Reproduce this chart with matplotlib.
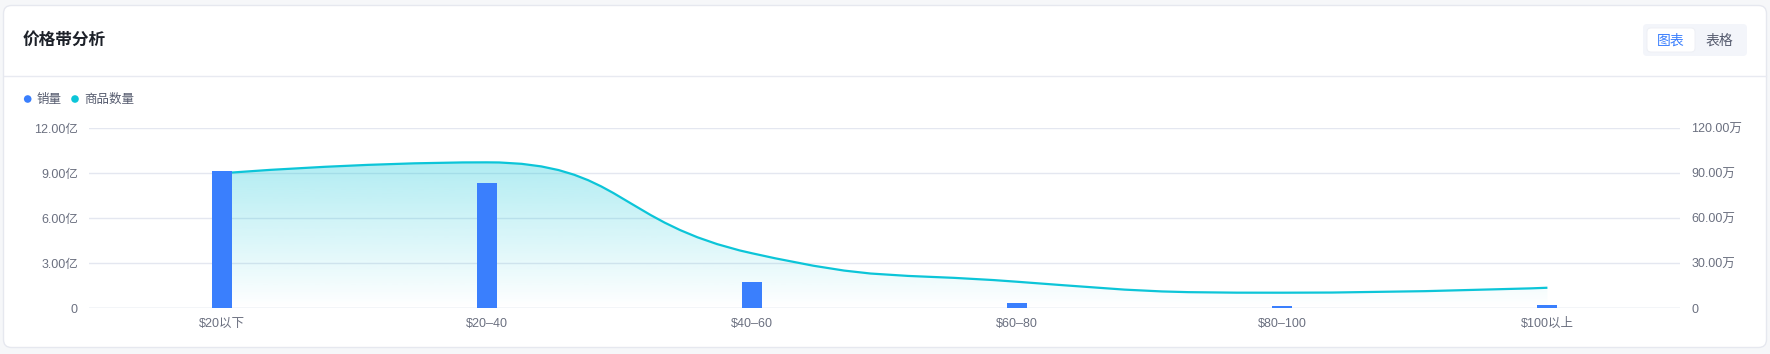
import numpy as np
import matplotlib
matplotlib.use("Agg")
import matplotlib.pyplot as plt
from matplotlib.patches import FancyBboxPatch, PathPatch, Circle
from matplotlib.path import Path
from matplotlib.colors import to_rgba

plt.rcParams['font.family'] = ['Noto Sans CJK SC', 'DejaVu Sans']
TICK_FONT = ['Liberation Sans', 'Noto Sans CJK SC']

# ---- data ----
categories = [r'\$20以下', r'\$20–40', r'\$40–60', r'\$60–80', r'\$80–100', r'\$100以上']
sales_yi = [9.13, 8.33, 1.75, 0.37, 0.17, 0.22]          # 销量, 亿
count_wan = [90.0, 97.3, 36.7, 17.7, 10.4, 13.7]          # 商品数量, 万
left_ticks = [0, 3, 6, 9, 12]
left_labels = ['0', '3.00亿', '6.00亿', '9.00亿', '12.00亿']
right_ticks = [0, 30, 60, 90, 120]
right_labels = ['0', '30.00万', '60.00万', '90.00万', '120.00万']

BLUE = '#3a7ffd'
CYAN = '#0cc5d8'
GRID = '#e4e7f0'
TICK = '#6b7080'

W, H = 1770, 354
fig = plt.figure(figsize=(W / 100, H / 100), dpi=100, facecolor='#f6f7f9')

# background axes in pixel coordinates for the card chrome
bg = fig.add_axes([0, 0, 1, 1])
bg.set_xlim(0, W)
bg.set_ylim(H, 0)
bg.axis('off')
bg.add_patch(FancyBboxPatch((3.5, 5.5), 1763, 342, boxstyle='round,pad=0,rounding_size=8',
                            fc='white', ec='#e6e8ef', lw=1))
bg.plot([4, 1766], [75.5, 75.5], color='#e8eaf1', lw=1)
bg.text(23, 40, '价格带分析', fontsize=12, fontweight='bold', color='#1d2129', va='center', ha='left')

# toggle
bg.add_patch(FancyBboxPatch((1643, 24), 104, 32, boxstyle='round,pad=0,rounding_size=4',
                            fc='#f3f5fa', ec='none'))
bg.add_patch(FancyBboxPatch((1647, 28), 48, 24, boxstyle='round,pad=0,rounding_size=4',
                            fc='white', ec='#eceef4', lw=0.6))
bg.text(1671, 40.5, '图表', fontsize=10, color='#3a7ffd', ha='center', va='center')
bg.text(1719, 40.5, '表格', fontsize=10, color='#555b6e', ha='center', va='center')

# legend
bg.add_patch(Circle((27.7, 99), 3.8, fc=BLUE, ec='none'))
bg.text(37, 99, '销量', fontsize=9, color='#555b6e', ha='left', va='center')
bg.add_patch(Circle((75, 99), 3.8, fc=CYAN, ec='none'))
bg.text(84, 99, '商品数量', fontsize=9, color='#555b6e', ha='left', va='center')

# plot area
x0, x1, ytop, ybot = 89, 1680, 128.3, 308.3
rect = [x0 / W, (H - ybot) / H, (x1 - x0) / W, (ybot - ytop) / H]
ax2 = fig.add_axes(rect)   # right axis (line) - lower layer
ax1 = fig.add_axes(rect)   # left axis (bars) - upper layer
ax1.patch.set_visible(False)
ax2.patch.set_visible(False)

x = np.arange(len(categories))
for a in (ax1, ax2):
    a.set_xlim(-0.5, len(categories) - 0.5)
    for s in a.spines.values():
        s.set_visible(False)
ax1.set_ylim(0, 12)
ax2.set_ylim(0, 120)


def smooth_path(pts, smooth=0.5):
    # bezier smoothing with control points clamped to neighbours (echarts style)
    verts = [pts[0]]
    codes = [Path.MOVETO]
    cp0 = pts[0]
    n = len(pts)
    for i in range(1, n):
        p = pts[i]
        prev = pts[i - 1]
        if i == n - 1:
            verts += [cp0, p, p]
            codes += [Path.CURVE4] * 3
            break
        nxt = pts[i + 1]
        v = nxt - prev
        len_prev = np.hypot(*(p - prev))
        len_next = np.hypot(*(nxt - p))
        ratio = len_next / (len_next + len_prev)
        ncp = p + v * smooth * ratio
        ncp = np.minimum(ncp, np.maximum(nxt, p))
        ncp = np.maximum(ncp, np.minimum(nxt, p))
        v = ncp - p
        cp1 = p - v * len_prev / len_next
        cp1 = np.minimum(cp1, np.maximum(prev, p))
        cp1 = np.maximum(cp1, np.minimum(prev, p))
        v = p - cp1
        ncp = p + v * len_next / len_prev
        verts += [cp0, cp1, p]
        codes += [Path.CURVE4] * 3
        cp0 = ncp
    return np.array(verts), codes


pix = ax2.transData.transform(np.column_stack([x, count_wan]))
pv, codes = smooth_path(pix)
verts = ax2.transData.inverted().transform(pv)
line_path = Path(verts, codes)

# grid sits under the area and line
ax2.set_yticks(right_ticks)
ax2.grid(axis='y', color=GRID, lw=1, zorder=0)
ax2.set_axisbelow(True)

# area with vertical gradient
area_verts = np.vstack([verts, [[x[-1], 0], [x[0], 0], verts[0]]])
area_codes = codes + [Path.LINETO, Path.LINETO, Path.CLOSEPOLY]
area = PathPatch(Path(area_verts, area_codes), fc='none', ec='none', transform=ax2.transData)
ax2.add_patch(area)
top = max(count_wan)
grad = np.zeros((256, 1, 4))
c = to_rgba(CYAN)
grad[:, 0, :3] = c[:3]
grad[:, 0, 3] = np.linspace(0.0, 0.32, 256)
im = ax2.imshow(grad, extent=[x[0], x[-1], 0, top], origin='lower', aspect='auto',
                interpolation='bilinear', zorder=1)
im.set_clip_path(area)
ax2.add_patch(PathPatch(line_path, fc='none', ec=CYAN, lw=1.6, zorder=2, transform=ax2.transData))
ax2.set_xlim(-0.5, len(categories) - 0.5)
ax2.set_ylim(0, 120)

# bars
ax1.bar(x, sales_yi, width=0.075, color=BLUE, zorder=3)

# ticks
ax1.set_yticks(left_ticks)
ax1.set_yticklabels(left_labels, family=TICK_FONT)
ax1.tick_params(axis='y', length=0, pad=8, labelsize=9, labelcolor=TICK)
ax1.set_xticks(x)
ax1.set_xticklabels(categories, family=TICK_FONT)
ax1.tick_params(axis='x', length=0, pad=7, labelsize=9, labelcolor=TICK)
ax2.set_xticks([])
ax2.yaxis.tick_right()
ax2.set_yticklabels(right_labels, family=TICK_FONT)
ax2.tick_params(axis='y', length=0, pad=8, labelsize=9, labelcolor=TICK)
ax1.axhline(0, color='#dfe2ec', lw=1, zorder=1)

fig.savefig('out.png', dpi=100, facecolor=fig.get_facecolor())
